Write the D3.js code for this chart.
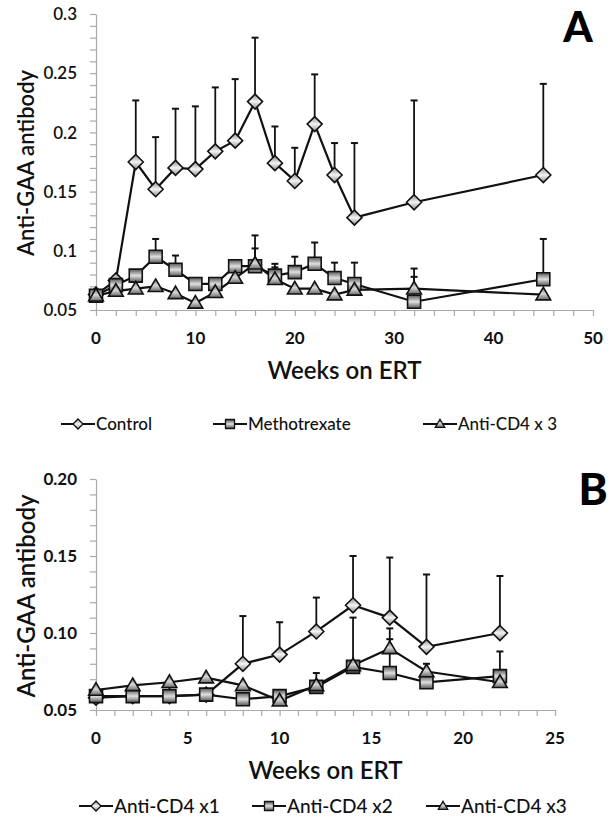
<!DOCTYPE html>
<html><head><meta charset="utf-8">
<script src="https://cdn.jsdelivr.net/npm/d3@7"></script>
<style>body{margin:0;background:#fff;} svg{display:block;font-family:Lato,"Open Sans",sans-serif;}</style>
</head><body>
<script>
// Panel A data
const weeksA = [0,2,4,6,8,10,12,14,16,18,20,22,24,26,32,45];
const controlA = [0.063,0.075,0.175,0.152,0.170,0.169,0.184,0.193,0.226,0.174,0.159,0.207,0.164,0.128,0.141,0.164];
const controlAErr = [null,null,0.227,0.196,0.220,0.222,0.238,0.245,0.280,0.205,0.187,0.249,0.191,0.191,0.227,0.241];
const mtxA = [0.062,0.071,0.079,0.095,0.084,0.072,0.072,0.087,0.087,0.079,0.082,0.089,0.077,0.072,0.057,0.076];
const mtxAErr = [null,null,null,0.110,0.096,null,null,0.092,0.113,0.089,0.095,0.107,0.090,0.090,0.085,0.110];
const cd4x3A = [0.062,0.066,0.068,0.070,0.064,0.056,0.065,0.077,0.089,0.076,0.068,0.068,0.063,0.067,0.068,0.063];
const cd4x3AErr = [null,null,null,null,null,null,null,null,0.102,0.086,null,null,null,null,0.078,null];
const legendA = ["Control","Methotrexate","Anti-CD4 x 3"];
const xTicksA = [0,10,20,30,40,50];
const yTicksA = [0.05,0.1,0.15,0.2,0.25,0.3];
const yTickLabelsA = ["0.05","0.1","0.15","0.2","0.25","0.3"];

// Panel B data
const weeksB = [0,2,4,6,8,10,12,14,16,18,22];
const cd4x1B = [0.058,0.059,0.059,0.060,0.080,0.086,0.101,0.118,0.110,0.091,0.100];
const cd4x1BErr = [null,null,null,null,0.111,0.107,0.123,0.150,0.149,0.138,0.137];
const cd4x2B = [0.059,0.059,0.059,0.060,0.057,0.059,0.065,0.078,0.074,0.068,0.072];
const cd4x2BErr = [null,null,null,null,null,null,null,0.110,0.096,null,0.088];
const cd4x3B = [0.063,0.066,0.068,0.071,0.066,0.056,0.066,0.079,0.090,0.075,0.068];
const cd4x3BErr = [null,null,null,null,null,null,0.074,null,0.103,0.080,null];
const legendB = ["Anti-CD4 x1","Anti-CD4 x2","Anti-CD4 x3"];
const xTicksB = [0,5,10,15,20,25];
const yTicksB = [0.05,0.10,0.15,0.20];
const yTickLabelsB = ["0.05","0.10","0.15","0.20"];

const W = 610, H = 833;
const svg = d3.select("body").append("svg").attr("width", W).attr("height", H);
const defs = svg.append("defs");
function grad(id, edge, mid){
  const g = defs.append("linearGradient").attr("id", id).attr("x1",0).attr("y1",0).attr("x2",0).attr("y2",1);
  g.append("stop").attr("offset","0%").attr("stop-color",edge);
  g.append("stop").attr("offset","50%").attr("stop-color",mid);
  g.append("stop").attr("offset","100%").attr("stop-color",edge);
}
grad("gDiamond","#8a8a8a","#f4f4f4");
grad("gSquare","#555","#e0e0e0");
grad("gTri","#6a6a6a","#d8d8d8");

function markerPath(type, s){
  if(type==="diamond") return `M0,${-s}L${s},0L0,${s}L${-s},0Z`;
  if(type==="square") return `M${-s},${-s}H${s}V${s}H${-s}Z`;
  return `M0,${-s*1.05}L${s*1.05},${s*0.75}L${-s*1.05},${s*0.75}Z`;
}
const fills = {diamond:"url(#gDiamond)", square:"url(#gSquare)", triangle:"url(#gTri)"};
const sizes = {diamond:7.5, square:6.5, triangle:7};

function panel(cfg){
  const x = d3.scaleLinear().domain(cfg.xDomain).range([cfg.left, cfg.right]);
  const y = d3.scaleLinear().domain(cfg.yDomain).range([cfg.bottom, cfg.top]);
  const g = svg.append("g");
  // y axis
  const ya = d3.axisLeft(y).tickValues(d3.range(cfg.yDomain[0], cfg.yDomain[1]+1e-9, 0.01)).tickFormat("").tickSize(6).tickSizeOuter(0);
  const yg = g.append("g").attr("transform",`translate(${cfg.left},0)`).call(ya);
  yg.selectAll("path,line").attr("stroke","#aaa").attr("stroke-width",1.2);
  g.selectAll(".ytl").data(cfg.yTicks).join("text").attr("class","ytl")
    .attr("x", cfg.left-19).attr("y", d=>y(d)).attr("dy","0.36em").attr("text-anchor","end")
    .attr("font-size",cfg.tickFont).attr("font-weight",cfg.yWeight).attr("fill","#111")
    .text((d,i)=>cfg.yTickLabels[i]);
  // x axis
  const xa = d3.axisBottom(x).tickValues(d3.range(cfg.xDomain[0], cfg.xDomain[1]+1e-9, cfg.xMinor)).tickFormat("").tickSize(6).tickSizeOuter(0);
  const xg = g.append("g").attr("transform",`translate(0,${cfg.bottom})`).call(xa);
  xg.selectAll("path,line").attr("stroke","#aaa").attr("stroke-width",1.2);
  g.selectAll(".xtl").data(cfg.xTicks).join("text").attr("class","xtl")
    .attr("x", d=>x(d)).attr("y", cfg.bottom+28).attr("dy","0.36em").attr("text-anchor","middle")
    .attr("font-size",cfg.tickFont).attr("font-weight","bold").attr("fill","#111").text(d=>d);
  // axis titles
  g.append("text").attr("x",(cfg.left+cfg.right)/2).attr("y",cfg.bottom+60).attr("dy","0.36em")
    .attr("text-anchor","middle").attr("font-size",cfg.titleFont).attr("font-weight",600).attr("fill","#111").text("Weeks on ERT");
  g.append("text").attr("transform",`translate(${cfg.yLabX},${cfg.yLabY}) rotate(-90)`).attr("dy","0.36em")
    .attr("text-anchor","middle").attr("font-size",cfg.yTitleFont).attr("font-weight",600).attr("fill","#111").text("Anti-GAA antibody");
  // panel letter
  g.append("text").attr("x",cfg.letterX).attr("y",cfg.letterY).attr("text-anchor","middle")
    .attr("font-size",cfg.letterFont).attr("font-weight","900").attr("fill","#000").text(cfg.letter);
  // error bars
  cfg.series.forEach(s=>{
    const eg = g.append("g");
    const pts = cfg.weeks.map((w,i)=>({w, v:s.values[i], e:s.err[i]})).filter(d=>d.e!=null);
    eg.selectAll("line.v").data(pts).join("line").attr("x1",d=>x(d.w)).attr("x2",d=>x(d.w))
      .attr("y1",d=>y(d.v)).attr("y2",d=>y(d.e)).attr("stroke","#111").attr("stroke-width",1.8);
    eg.selectAll("line.c").data(pts).join("line").attr("x1",d=>x(d.w)-3.5).attr("x2",d=>x(d.w)+3.5)
      .attr("y1",d=>y(d.e)).attr("y2",d=>y(d.e)).attr("stroke","#111").attr("stroke-width",2);
  });
  // lines + markers
  cfg.series.forEach(s=>{
    const data = cfg.weeks.map((w,i)=>({w, v:s.values[i]}));
    g.append("path").datum(data).attr("fill","none").attr("stroke","#111").attr("stroke-width",2.2)
      .attr("d", d3.line().x(d=>x(d.w)).y(d=>y(d.v)));
  });
  cfg.series.forEach(s=>{
    const data = cfg.weeks.map((w,i)=>({w, v:s.values[i]}));
    g.selectAll(null).data(data).join("path").attr("transform",d=>`translate(${x(d.w)},${y(d.v)})`)
      .attr("d", markerPath(s.type, sizes[s.type])).attr("fill",fills[s.type]).attr("stroke","#111").attr("stroke-width",1.6);
  });
  // legend
  cfg.series.forEach((s,i)=>{
    const lx = cfg.legendX[i], ly = cfg.legendY;
    const lg = g.append("g").attr("transform",`translate(${lx},${ly})`);
    lg.append("line").attr("x1",-17).attr("x2",17).attr("stroke","#111").attr("stroke-width",2);
    lg.append("path").attr("d", markerPath(s.type, s.type==="diamond"?5:4.5)).attr("fill",fills[s.type]).attr("stroke","#111").attr("stroke-width",1.3);
    lg.append("text").attr("x",18).attr("dy","0.36em").attr("font-size",cfg.legendFont).attr("font-weight",500).attr("fill","#111").text(s.name);
  });
}

panel({
  xDomain:[0,50], yDomain:[0.05,0.3], left:96, right:593, top:14, bottom:310, xMinor:2,
  xTicks:xTicksA, yTicks:yTicksA, yTickLabels:yTickLabelsA, tickFont:17, yWeight:600,
  titleFont:24, yTitleFont:22, yLabX:26, yLabY:163,
  letter:"A", letterX:578, letterY:42, letterFont:42,
  weeks:weeksA,
  series:[
    {name:legendA[0], type:"diamond", values:controlA, err:controlAErr},
    {name:legendA[1], type:"square", values:mtxA, err:mtxAErr},
    {name:legendA[2], type:"triangle", values:cd4x3A, err:cd4x3AErr}
  ],
  legendX:[78,230,440], legendY:424, legendFont:17
});

panel({
  xDomain:[0,25], yDomain:[0.05,0.2], left:96, right:555, top:479, bottom:710, xMinor:1,
  xTicks:xTicksB, yTicks:yTicksB, yTickLabels:yTickLabelsB, tickFont:17, yWeight:"bold",
  titleFont:24, yTitleFont:24, yLabX:26, yLabY:596,
  letter:"B", letterX:593, letterY:505, letterFont:44,
  weeks:weeksB,
  series:[
    {name:legendB[0], type:"diamond", values:cd4x1B, err:cd4x1BErr},
    {name:legendB[1], type:"square", values:cd4x2B, err:cd4x2BErr},
    {name:legendB[2], type:"triangle", values:cd4x3B, err:cd4x3BErr}
  ],
  legendX:[96,269,443], legendY:806, legendFont:19
});
</script>
</body></html>
